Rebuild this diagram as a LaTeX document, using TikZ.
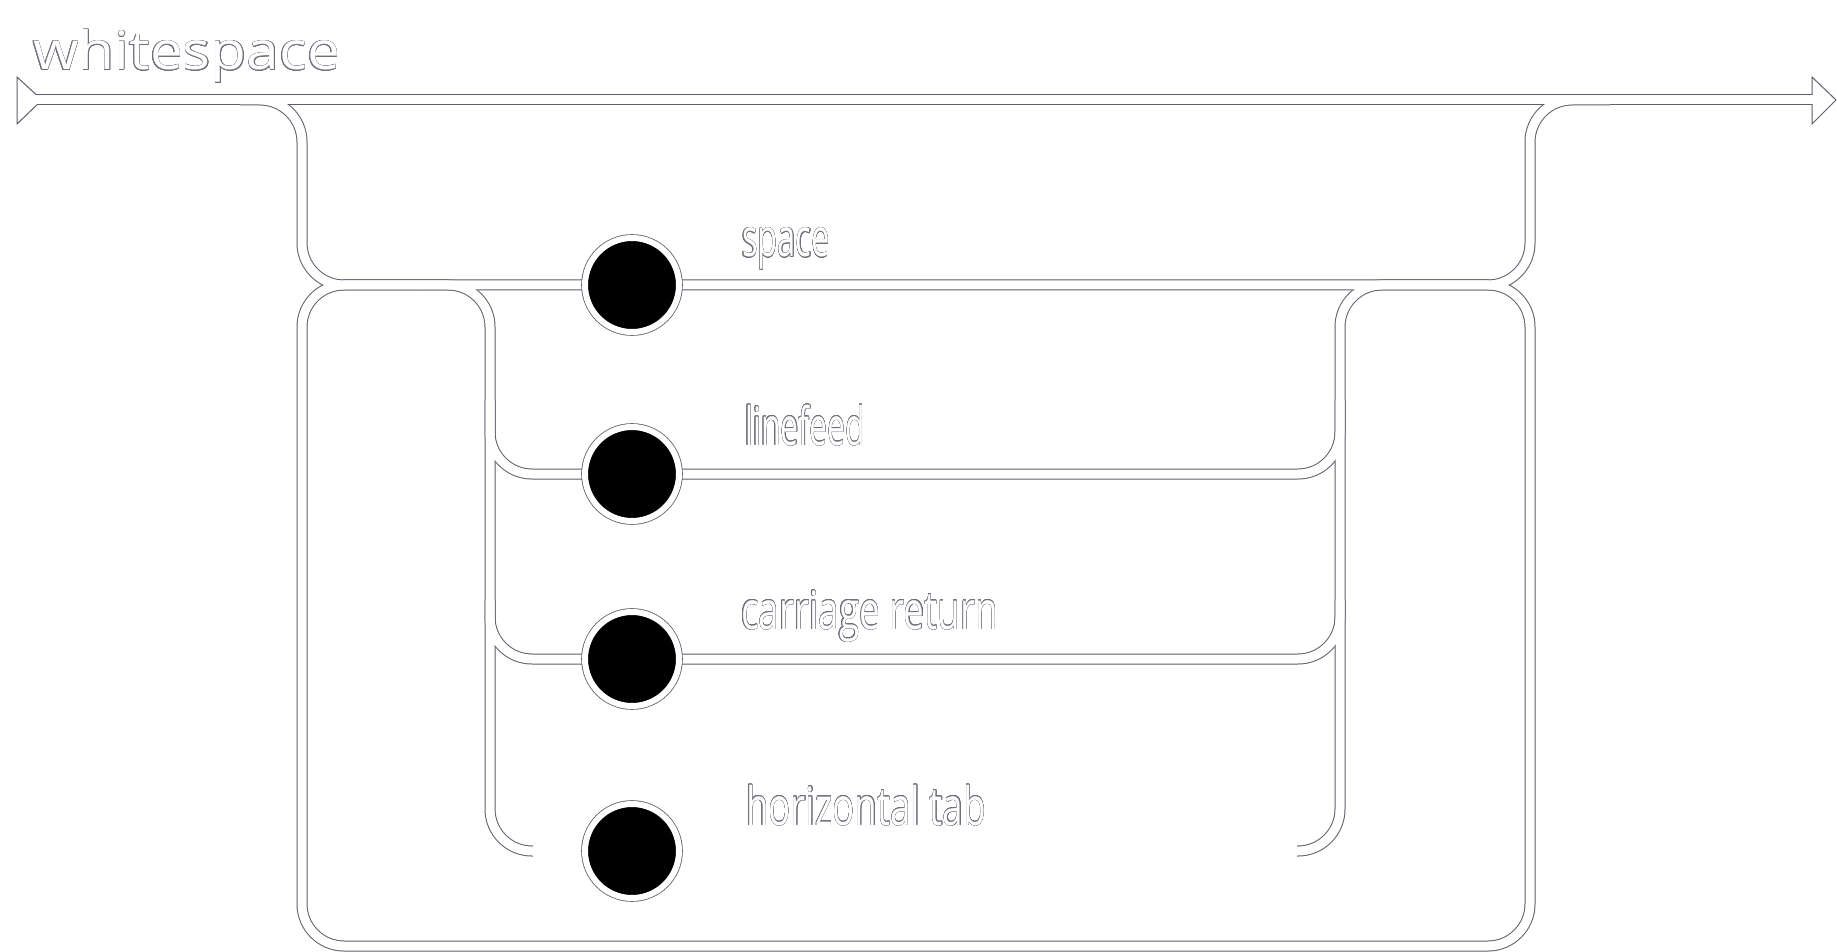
\documentclass[tikz,border=0pt]{standalone}
\usepackage{fontspec}
\setmainfont{Open Sans}
\usepackage{graphicx}
\usepackage{contour}
\contourlength{0.22pt}
\definecolor{edge}{RGB}{92,95,106}
\definecolor{textedge}{RGB}{110,112,122}
\tikzset{
  lbl/.style={anchor=base west, inner sep=0pt, outer sep=0pt, text=white,
    font=\fontsize{26.5pt}{30pt}\selectfont},
  stopdot/.style={circle, inner sep=0pt, minimum size=47pt, fill=black,
    draw=white, line width=3pt, preaction={draw=edge, line width=3.8pt}},
  endmark/.style={draw=edge, fill=white, line width=0.5pt, line join=miter}
}
\newcommand\railpaths{%
  \draw[railline] (start) -- (finish);
  \draw[railline] (240,100) -- (LA) -- (LB) -- (cs);
  \draw[railline] (cs) -- (RB) -- (RA) -- (1610,100);
  \draw[railline] (1420,285) -- (RB) -- (RC) -- (LC) -- (LB) -- (420,285);
  \draw[railline] (420,285) -- (IL) -- (ILt) -- (tabL);
  \draw[railline] (490,400) -- (ILf) -- (clf);
  \draw[railline] (490,600) -- (ILc) -- (ccr);
  \draw[railline] (tabR) -- (IRt) -- (IR) -- (1420,285);
  \draw[railline] (clf) -- (IRf) -- (1340,400);
  \draw[railline] (ccr) -- (IRc) -- (1340,600);
}
\begin{document}
\begin{tikzpicture}[x=0.5pt, y=-0.5pt, rounded corners=21pt]
  \useasboundingbox (0,0) rectangle (1837,952);
  \fill[white, sharp corners] (0,0) rectangle (1837,952);
  % named points
  \coordinate (start) at (36,100);
  \coordinate (finish) at (1813,100);
  \coordinate (LA) at (302,100);
  \coordinate (LB) at (302,285);
  \coordinate (LC) at (302,946);
  \coordinate (RA) at (1530,100);
  \coordinate (RB) at (1530,285);
  \coordinate (RC) at (1530,946);
  \coordinate (IL) at (490,285);
  \coordinate (ILf) at (490,474);
  \coordinate (ILc) at (490,659);
  \coordinate (ILt) at (490,851);
  \coordinate (IR) at (1340,285);
  \coordinate (IRf) at (1340,474);
  \coordinate (IRc) at (1340,659);
  \coordinate (IRt) at (1340,851);
  \coordinate (tabL) at (533,851);
  \coordinate (tabR) at (1297,851);
  \coordinate (cs) at (632,285);
  \coordinate (clf) at (632,474);
  \coordinate (ccr) at (632,659);
  \coordinate (ctab) at (632,851);
  % outline pass
  \begin{scope}[railline/.style={draw=edge, line width=5.5pt}]
    \railpaths
  \end{scope}
  % start / end markers
  \draw[endmark, sharp corners] (17,77) -- (42,100) -- (17,124) -- cycle;
  \draw[endmark, sharp corners] (1812,77) -- (1836,100) -- (1812,124) -- cycle;
  % white pass
  \begin{scope}[railline/.style={draw=white, line width=4.5pt}]
    \railpaths
    \draw[railline, sharp corners] (tabL) -- (ctab) -- (tabR);
  \end{scope}
  % stations
  \node[stopdot] (dspace) at (cs) {};
  \node[stopdot] (dlf) at (clf) {};
  \node[stopdot] (dcr) at (ccr) {};
  \node[stopdot] (dtab) at (ctab) {};
  % texts
  \node[lbl] (title) at (33,70) {\resizebox{153.5pt}{\height}{\contour{textedge}{whitespace}}};
  \node[lbl] (lspace) at (742,257) {\resizebox{44pt}{\height}{\contour{textedge}{space}}};
  \node[lbl] (llf) at (745,445) {\resizebox{60pt}{\height}{\contour{textedge}{linefeed}}};
  \node[lbl] (lcr) at (741,629) {\resizebox{128.5pt}{\height}{\contour{textedge}{carriage return}}};
  \node[lbl] (ltab) at (746,825) {\resizebox{120pt}{\height}{\contour{textedge}{horizontal tab}}};
\end{tikzpicture}
\end{document}
